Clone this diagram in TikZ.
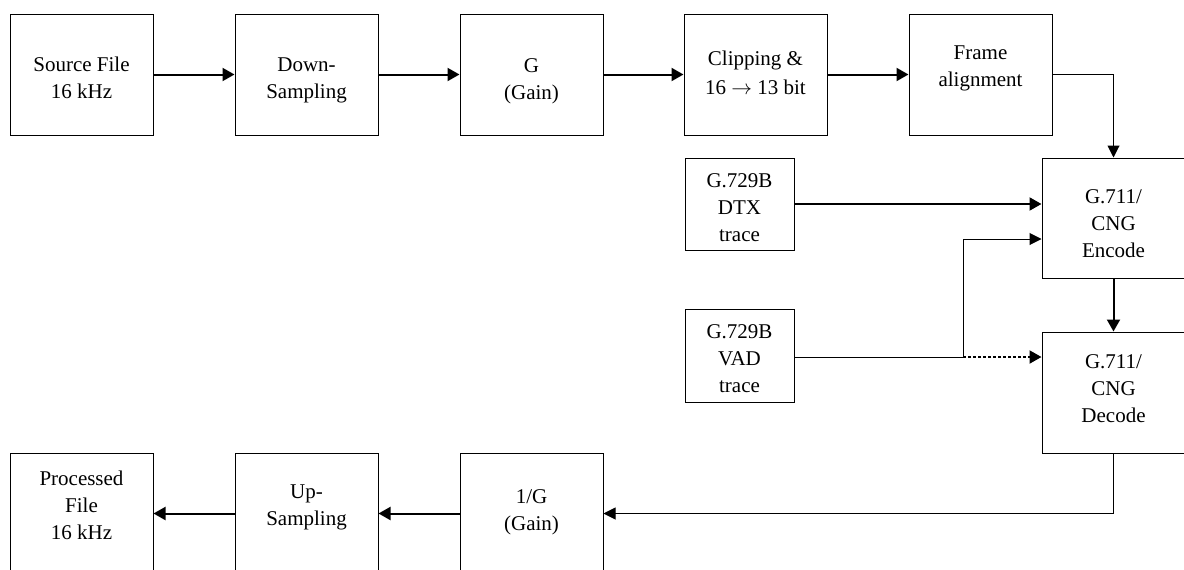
\documentclass[tikz,border=0pt]{standalone}
\usepackage{fontspec}
\setmainfont{Liberation Serif}
\usetikzlibrary{arrows.meta}
\begin{document}
\begin{tikzpicture}[x=1pt,y=-1pt,
  box/.style={draw=black,line width=1pt,rectangle,inner sep=0pt,minimum width=143pt,minimum height=121pt},
  smallbox/.style={draw=black,line width=1pt,rectangle,inner sep=0pt,minimum width=109pt,minimum height=92pt},
  txt/.style={anchor=base,align=center,inner sep=0pt,font=\fontsize{21}{27}\selectfont},
  thick arrow/.style={line width=2pt,-{Triangle[length=12pt,width=13pt]}},
  thin arrow/.style={line width=1pt,-{Triangle[length=12pt,width=12pt]}},
  thin line/.style={line width=1pt},
  dotted arrow/.style={line width=2pt,dash pattern=on 3pt off 2pt,-{Triangle[length=12pt,width=13pt]}}]
\useasboundingbox (0,0) rectangle (1184,570);
\fill[white] (0,0) rectangle (1184,570);
% top row
\node[box] (src) at (81.5,74.5) {};
\node[box] (down) at (306.5,74.5) {};
\node[box] (gain) at (531.5,74.5) {};
\node[box] (clip) at (755.5,74.5) {};
\node[box] (frame) at (980.5,74.5) {};
% right column
\node[box,minimum height=120pt] (enc) at (1113.5,218) {};
\node[box] (dec) at (1113.5,392.5) {};
% traces
\node[smallbox] (dtx) at (739.5,204) {};
\node[smallbox,minimum height=93pt] (vad) at (739.5,355.5) {};
% bottom row
\node[box] (ginv) at (531.5,513.5) {};
\node[box] (up) at (306.5,513.5) {};
\node[box] (proc) at (81.5,513.5) {};
% texts (anchored at the baseline of the last line)
\node[txt] (tsrc) at (81.5,98) {Source File\\16 kHz};
\node[txt] (tdown) at (306.5,98) {Down-\\Sampling};
\node[txt] (tgain) at (531.5,99) {G\\(Gain)};
\node[txt] (tclip) at (755.5,94) {Clipping \&\\[2pt]16 $\rightarrow$ 13 bit};
\node[txt] (tframe) at (980.5,86) {Frame\\alignment};
\node[txt] (tenc) at (1113.5,257) {G.711/\\CNG\\Encode};
\node[txt] (tdec) at (1113.5,422) {G.711/\\CNG\\Decode};
\node[txt] (tdtx) at (739.5,241) {G.729B\\DTX\\trace};
\node[txt] (tvad) at (739.5,392) {G.729B\\VAD\\trace};
\node[txt] (tproc) at (81.5,539) {Processed\\File\\16 kHz};
\node[txt] (tup) at (306.5,525) {Up-\\Sampling};
\node[txt] (tginv) at (531.5,530) {1/G\\(Gain)};
% connectors
\draw[thick arrow] (src.east) -- (down.west);
\draw[thick arrow] (down.east) -- (gain.west);
\draw[thick arrow] (gain.east) -- (clip.west);
\draw[thick arrow] (clip.east) -- (frame.west);
\draw[thin arrow] (frame.east) -| (enc.north);
\draw[thick arrow] (dtx.east) -- (dtx.east -| enc.west);
\coordinate (j) at (963,357);
\draw[thin line] (vad.east |- j) -- (j);
\draw[thin arrow] (j) |- (enc.west |- 0,239);
\draw[dotted arrow] (j) -- (j -| dec.west);
\draw[thick arrow] (enc.south) -- (dec.north);
\draw[thin arrow] (dec.south) |- (ginv.east);
\draw[thick arrow] (ginv.west) -- (up.east);
\draw[thick arrow] (up.west) -- (proc.east);
\end{tikzpicture}
\end{document}
